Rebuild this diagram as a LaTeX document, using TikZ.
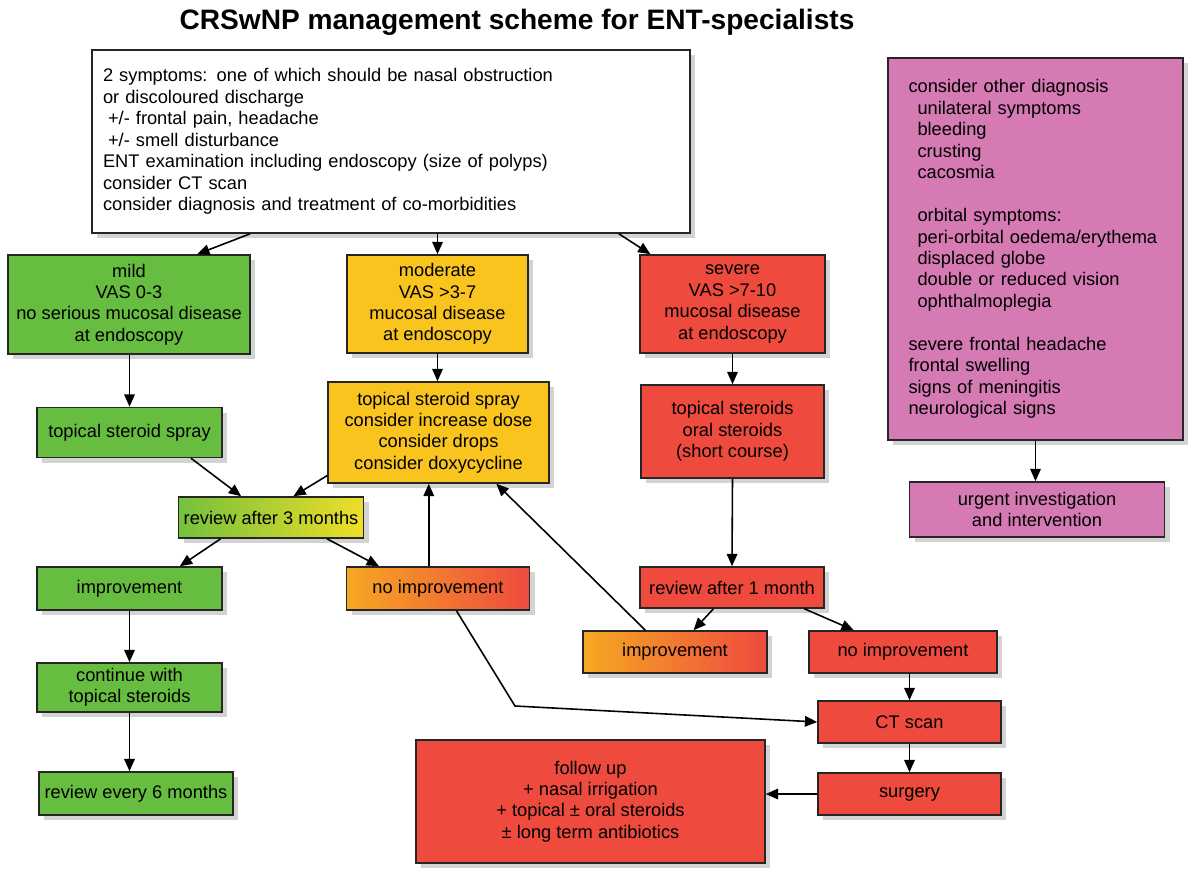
\documentclass[tikz,border=0pt]{standalone}
\usepackage{fontspec}
\setmainfont{Liberation Sans}
\usetikzlibrary{arrows.meta,calc,shadows}
\definecolor{mildgreen}{RGB}{103,189,64}
\definecolor{modyellow}{RGB}{250,196,30}
\definecolor{sevred}{RGB}{238,74,62}
\definecolor{alarmpink}{RGB}{214,122,180}
\definecolor{midorange}{RGB}{246,168,35}
\definecolor{limeyellow}{RGB}{238,222,40}
\tikzset{
  box/.style={draw=black!85, line width=0.9pt, inner sep=0pt, align=center,
    font=\fontsize{10.4}{12.2}\selectfont,
    drop shadow={shadow xshift=3pt, shadow yshift=-3pt, opacity=0.35}},
  dims/.style 2 args={minimum width=#1*0.02cm, minimum height=#2*0.02cm},
  arr/.style={-{Triangle[length=7pt,width=6pt]}, line width=0.9pt},
}
\begin{document}
\begin{tikzpicture}[x=0.02cm,y=-0.02cm]
  \useasboundingbox (0,0) rectangle (1190,871);
  \node[font=\fontsize{16}{19}\selectfont\bfseries] (title) at (517,22) {CRSwNP management scheme for ENT-specialists};

  % first line of boxes
  \node[box, dims={598}{183}, fill=white, align=left, text width=576*0.02cm] (top) at (391,141.5)
    {2 symptoms: one of which should be nasal obstruction\\
     or discoloured discharge\\
     \hspace*{0.1cm}+/- frontal pain, headache\\
     \hspace*{0.1cm}+/- smell disturbance\\
     ENT examination including endoscopy (size of polyps)\\
     consider CT scan\\
     consider diagnosis and treatment of co-morbidities};
  \node[box, dims={295}{382}, fill=alarmpink, align=left, text width=254*0.02cm] (alarm) at (1035.5,249)
    {consider other diagnosis\\
     \hspace*{0.18cm}unilateral symptoms\\
     \hspace*{0.18cm}bleeding\\
     \hspace*{0.18cm}crusting\\
     \hspace*{0.18cm}cacosmia\\[12.2pt]
     \hspace*{0.18cm}orbital symptoms:\\
     \hspace*{0.18cm}peri-orbital oedema/erythema\\
     \hspace*{0.18cm}displaced globe\\
     \hspace*{0.18cm}double or reduced vision\\
     \hspace*{0.18cm}ophthalmoplegia\\[12.2pt]
     severe frontal headache\\
     frontal swelling\\
     signs of meningitis\\
     neurological signs};
  \node[box, dims={255}{55}, fill=alarmpink] (urgent) at (1037,509.5) {urgent investigation\\and intervention};

  \node[box, dims={242}{99}, fill=mildgreen] (mild) at (129,304.5) {mild\\VAS 0-3\\no serious mucosal disease\\at endoscopy};
  \node[box, dims={181}{98}, fill=modyellow] (moderate) at (437.5,304) {moderate\\VAS >3-7\\mucosal disease\\at endoscopy};
  \node[box, dims={185}{98}, fill=sevred] (severe) at (732.5,304) {severe\\VAS >7-10\\mucosal disease\\at endoscopy};

  % treatment
  \node[box, dims={185}{50}, fill=mildgreen] (spray) at (129.5,432.5) {topical steroid spray};
  \node[box, dims={221}{101}, fill=modyellow] (modtreat) at (438.5,432.5) {topical steroid spray\\consider increase dose\\consider drops\\consider doxycycline};
  \node[box, dims={183}{93}, fill=sevred] (sevtreat) at (732.5,431.5) {topical steroids\\oral steroids\\(short course)};

  % review and outcome
  \node[box, dims={185}{41}, left color=mildgreen!90!limeyellow, right color=limeyellow] (review3) at (271,517.5) {review after 3 months};
  \node[box, dims={185}{43}, fill=mildgreen] (improveL) at (129.5,588.5) {improvement};
  \node[box, dims={183}{43}, left color=midorange, right color=sevred] (noimpL) at (438,588.5) {no improvement};
  \node[box, dims={185}{49}, fill=mildgreen] (cont) at (129.5,687.5) {continue with\\topical steroids};
  \node[box, dims={194}{43}, fill=mildgreen] (review6) at (136,793.5) {review every 6 months};

  \node[box, dims={184}{41}, fill=sevred] (review1) at (732,587.5) {review after 1 month};
  \node[box, dims={184}{42}, left color=midorange, right color=sevred] (improveR) at (675,652) {improvement};
  \node[box, dims={188}{42}, fill=sevred] (noimpR) at (903,652) {no improvement};
  \node[box, dims={183}{42}, fill=sevred] (ct) at (909.5,722) {CT scan};
  \node[box, dims={183}{42}, fill=sevred] (surgery) at (909.5,794) {surgery};
  \node[box, dims={349}{123}, fill=sevred] (followup) at (590.5,801.5) {follow up\\+ nasal irrigation\\+ topical ± oral steroids\\± long term antibiotics};
  \coordinate (bend) at (515,706);
  \coordinate (up) at ($(noimpL.north west)!.45!(noimpL.north east)$);

  % connectors
  \draw[arr] ($(top.south west)!.265!(top.south east)$) -- ($(mild.north west)!.78!(mild.north east)$);
  \draw[arr] (moderate.north |- top.south) -- (moderate.north);
  \draw[arr] ($(top.south west)!.88!(top.south east)$) -- ($(severe.north west)!.06!(severe.north east)$);
  \draw[arr] (mild.south -| spray.north) -- (spray.north);
  \draw[arr] (moderate.south) -- (moderate.south |- modtreat.north);
  \draw[arr] (severe.south) -- (sevtreat.north);
  \draw[arr] ($(spray.south west)!.83!(spray.south east)$) -- ($(review3.north west)!.34!(review3.north east)$);
  \draw[arr] ($(modtreat.south west)!.08!(modtreat.north west)$) -- ($(review3.north west)!.62!(review3.north east)$);
  \draw[arr] ($(review3.south west)!.23!(review3.south east)$) -- ($(improveL.north west)!.77!(improveL.north east)$);
  \draw[arr] ($(review3.south west)!.8!(review3.south east)$) -- ($(noimpL.north west)!.18!(noimpL.north east)$);
  \draw[arr] (improveL) -- (cont);
  \draw[arr] (cont.south) -- (cont.south |- review6.north);
  \draw[arr] (up) -- (up |- modtreat.south);
  \draw[arr] ($(noimpL.south west)!.6!(noimpL.south east)$) -- (bend) -- (ct.west);
  \draw[arr] ($(improveR.north west)!.34!(improveR.north east)$) -- ($(modtreat.south west)!.76!(modtreat.south east)$);
  \draw[arr] (sevtreat.south) -- (review1.north);
  \draw[arr] ($(review1.south west)!.4!(review1.south east)$) -- ($(improveR.north west)!.6!(improveR.north east)$);
  \draw[arr] ($(review1.south west)!.89!(review1.south east)$) -- ($(noimpR.north west)!.24!(noimpR.north east)$);
  \draw[arr] (ct.north |- noimpR.south) -- (ct.north);
  \draw[arr] (ct) -- (surgery);
  \draw[arr] (surgery.west) -- (surgery.west -| followup.east);
  \draw[arr] (alarm.south) -- (alarm.south |- urgent.north);
\end{tikzpicture}
\end{document}
